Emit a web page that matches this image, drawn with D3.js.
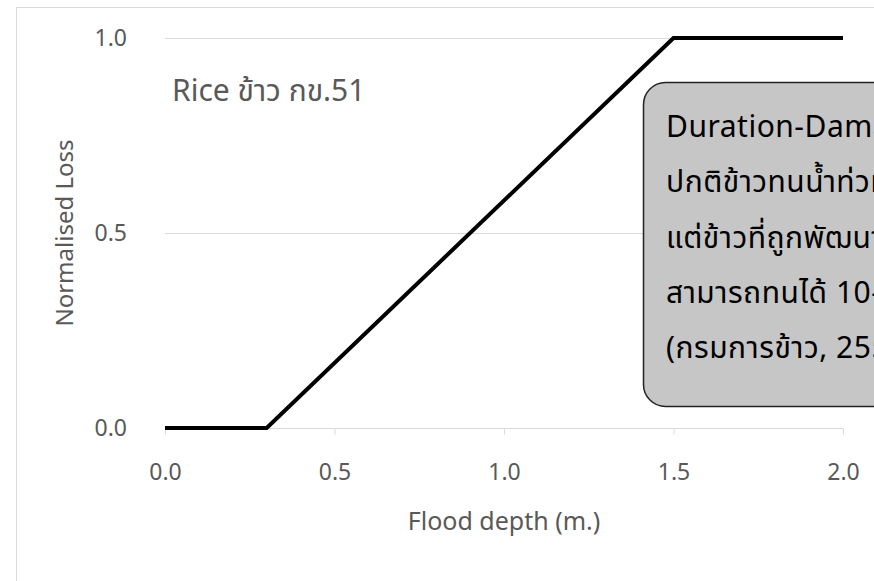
<!DOCTYPE html>
<html>
<head>
<meta charset="utf-8">
<script src="https://cdn.jsdelivr.net/npm/d3@7"></script>
<style>
  html, body { margin: 0; padding: 0; background: #fff; }
  svg { display: block; }
  text { font-family: "Noto Sans", "Noto Sans Thai", "Open Sans", sans-serif; }
</style>
</head>
<body>
<svg id="chart" width="874" height="581"></svg>
<script>
// Depth-damage curve for rice (normalised loss vs flood depth)
const depth = [0.0, 0.3, 1.5, 2.0];
const loss  = [0.0, 0.0, 1.0, 1.0];

const xTicks = [0.0, 0.5, 1.0, 1.5, 2.0];
const yTicks = [0.0, 0.5, 1.0];

const xTitle = "Flood depth (m.)";
const yTitle = "Normalised Loss";
const chartLabel = "Rice ข้าว กข.51";
const noteLines = [
  "Duration-Damage Curve",
  "ปกติข้าวทนน้ำท่วมได้ 7 วัน",
  "แต่ข้าวที่ถูกพัฒนาพันธุ์แล้ว",
  "สามารถทนได้ 10-14 วัน",
  "(กรมการข้าว, 2555)"
];

const svg = d3.select("#chart");
const W = 874, H = 581;

// outer chart frame
svg.append("rect")
  .attr("x", 16.5).attr("y", 7.5)
  .attr("width", W + 20).attr("height", H + 20)
  .attr("fill", "#fff")
  .attr("stroke", "#d9d9d9").attr("stroke-width", 1);

const x = d3.scaleLinear().domain([0, 2]).range([165, 843]);
const y = d3.scaleLinear().domain([0, 1]).range([428, 38]);

const grey = "#595959";

// horizontal gridlines
svg.append("g")
  .selectAll("line")
  .data(yTicks.filter(d => d > 0))
  .join("line")
  .attr("x1", x(0)).attr("x2", x(2))
  .attr("y1", d => y(d) + 0.5).attr("y2", d => y(d) + 0.5)
  .attr("stroke", "#d9d9d9").attr("stroke-width", 1);

// x axis
const xAxis = svg.append("g")
  .attr("transform", `translate(0,${y(0) + 0.5})`)
  .call(d3.axisBottom(x).tickValues(xTicks).tickSize(6).tickFormat(d3.format(".1f")));
xAxis.select(".domain").attr("stroke", "#d9d9d9").attr("d", `M${x(0)},0H${x(2)}`);
xAxis.selectAll(".tick line").attr("stroke", "#d9d9d9");
xAxis.selectAll(".tick text")
  .attr("y", 51).attr("dy", null)
  .attr("fill", grey).attr("font-size", 23)
  .attr("font-family", "'Noto Sans', sans-serif");

// y axis labels
const yAxis = svg.append("g")
  .attr("transform", `translate(${x(0)},0)`)
  .call(d3.axisLeft(y).tickValues(yTicks).tickSize(0).tickPadding(38).tickFormat(d3.format(".1f")));
yAxis.select(".domain").remove();
yAxis.selectAll(".tick text")
  .attr("fill", grey).attr("font-size", 23)
  .attr("font-family", "'Noto Sans', sans-serif");

// axis titles
svg.append("text")
  .attr("x", x(1)).attr("y", 530)
  .attr("text-anchor", "middle")
  .attr("fill", grey).attr("font-size", 25)
  .text(xTitle);

svg.append("text")
  .attr("transform", `translate(73,${y(0.5)}) rotate(-90)`)
  .attr("text-anchor", "middle")
  .attr("fill", grey).attr("font-size", 24)
  .text(yTitle);

// series label
svg.append("text")
  .attr("x", 172).attr("y", 101)
  .attr("fill", grey).attr("font-size", 30)
  .text(chartLabel);

// damage curve
const line = d3.line().x((d, i) => x(depth[i])).y(d => y(d));
svg.append("path")
  .datum(loss)
  .attr("d", line)
  .attr("fill", "none")
  .attr("stroke", "#000")
  .attr("stroke-width", 4)
  .attr("stroke-linejoin", "miter");

// note box
const note = svg.append("g");
note.append("rect")
  .attr("x", 643.5).attr("y", 82.5)
  .attr("width", 300).attr("height", 324)
  .attr("rx", 22).attr("ry", 22)
  .attr("fill", "#c6c6c6")
  .attr("stroke", "#222").attr("stroke-width", 1.5);

note.selectAll("text")
  .data(noteLines)
  .join("text")
  .attr("x", 666)
  .attr("y", (d, i) => 137 + i * 55.3)
  .attr("fill", "#000")
  .attr("font-size", 30)
  .attr("letter-spacing", 0.5)
  .text(d => d);
</script>
</body>
</html>
